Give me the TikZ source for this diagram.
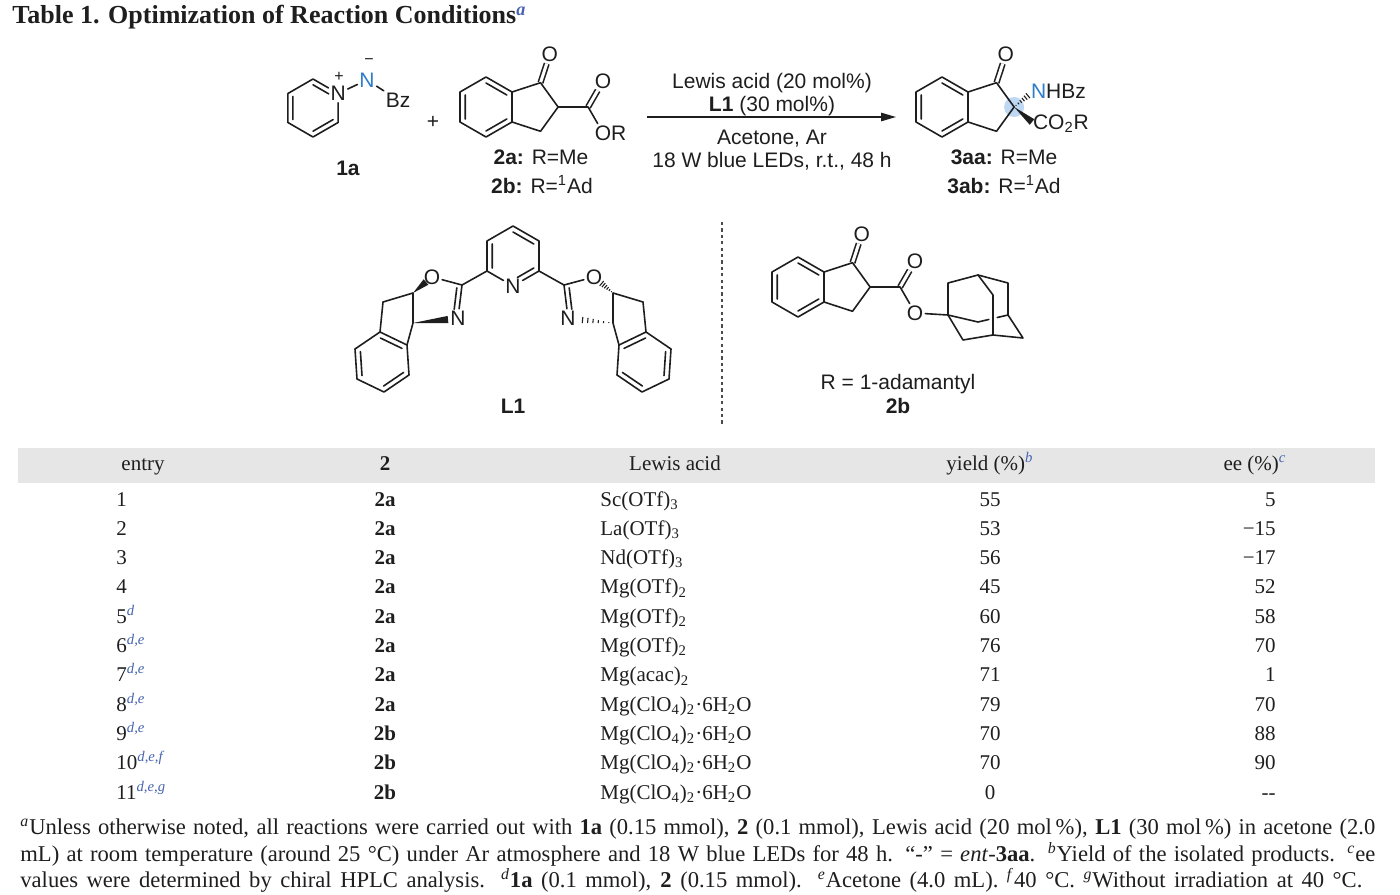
\documentclass[tikz,border=0pt]{standalone}
\usepackage{fontspec}
\setmainfont{Liberation Serif}
\setsansfont{Liberation Sans}
\usetikzlibrary{calc,arrows.meta}
\definecolor{ink}{RGB}{30,30,30}
\definecolor{chemblue}{RGB}{45,125,200}
\definecolor{refblue}{RGB}{70,100,175}
\definecolor{headgray}{RGB}{230,230,230}
\definecolor{stereohl}{RGB}{190,215,242}
\newcommand\wedgebond[2]{\fill[ink] (#1) -- ($(#2)!1.8pt!90:(#1)$) -- ($(#2)!1.8pt!-90:(#1)$) -- cycle;}
\newcommand\hashbond[2]{\foreach \hf in {0.12,0.27,...,0.97}
  \draw[hash] ($(#1)!\hf!(#2)!\hf*1.8pt!90:(#2)$) -- ($(#1)!\hf!(#2)!\hf*1.8pt!-90:(#2)$);}
\newcommand\mgp{Mg(ClO\textsubscript{4})\textsubscript{2}·6H\textsubscript{2}O}

\begin{document}
\begin{tikzpicture}[x=0.5pt, y=-0.5pt,
  bond/.style={draw=ink, line width=0.8pt, line cap=round, line join=round},
  dbl/.style={bond, line cap=butt, double=white, double distance=1.5pt},
  hash/.style={draw=ink, line width=0.55pt},
  atom/.style={inner sep=0.8pt, text=ink, font=\sffamily\fontsize{10.5}{12}\selectfont},
  chem/.style={inner sep=0pt, text=ink, font=\sffamily\fontsize{10.5}{12}\selectfont},
  charge/.style={inner sep=0pt, text=ink, font=\sffamily\fontsize{8}{9}\selectfont},
  tab/.style={inner sep=0pt, text=ink, font=\fontsize{10.5}{12}\selectfont},
  foot/.style={inner sep=0pt, text=ink, font=\fontsize{11.3}{13}\selectfont},
  rarrow/.style={draw=ink, line width=0.75pt, -{Triangle[length=7.5pt, width=4.2pt]}},
  sep/.style={draw=ink!80, line width=0.9pt, dash pattern=on 1.6pt off 1.6pt},
  indanone/.pic={
    \coordinate (-c) at (0,0);
    \coordinate (-t) at (0,-30);
    \coordinate (-ur) at (26,-15);
    \coordinate (-lr) at (26,15);
    \coordinate (-b) at (0,30);
    \coordinate (-ll) at (-26,15);
    \coordinate (-ul) at (-26,-15);
    \coordinate (-k) at (54.5,-24.3);
    \coordinate (-ch) at (72.1,0);
    \coordinate (-m) at (54.5,24.3);
    \node[atom] (-o) at (63.8,-52.8) {O};
    \draw[dbl] (-k) -- (-o);
    \draw[bond] (-t) -- (-ur) -- (-lr) -- (-b) -- (-ll) -- (-ul) -- cycle
      (-ur) -- (-k) -- (-ch) -- (-m) -- (-lr);
    \draw[bond] ($(-c)!.8!(-t)$) -- ($(-c)!.8!(-ur)$)
      ($(-c)!.8!(-ul)$) -- ($(-c)!.8!(-ll)$)
      ($(-c)!.8!(-b)$) -- ($(-c)!.8!(-lr)$);
  },
  indox/.pic={
    \coordinate (-p) at (-26,15);
    \coordinate (-c2) at (-51,29);
    \node[atom] (-o) at (-81,21) {O};
    \node[atom] (-n) at (-55,62) {N};
    \coordinate (-c5) at (-100,37);
    \coordinate (-c4) at (-100,67);
    \coordinate (-m) at (-130,46);
    \coordinate (-x) at (-77,43);
    \coordinate (-ow) at (-87,26);
    \coordinate (-nw) at (-65,63.5);
    \coordinate (-bz) at (-131,106);
    \coordinate (-b1) at (-133,76);
    \coordinate (-b2) at (-106,89);
    \coordinate (-b3) at (-104,119);
    \coordinate (-b4) at (-129,136);
    \coordinate (-b5) at (-156,123);
    \coordinate (-b6) at (-158,93);
    \draw[bond] (-p) -- (-c2) -- (-o);
    \draw[bond] (-c2) -- (-n);
    \draw[bond, shorten >=2.5pt] ($(-x)!.8!(-c2)$) -- ($(-x)!.8!(-n)$);
    \draw[bond] (-m) -- (-c5) -- (-c4) -- (-b2);
    \draw[bond] (-m) -- (-b1);
    \draw[bond] (-b1) -- (-b2) -- (-b3) -- (-b4) -- (-b5) -- (-b6) -- cycle;
    \draw[bond] ($(-bz)!.8!(-b1)$) -- ($(-bz)!.8!(-b2)$)
      ($(-bz)!.8!(-b3)$) -- ($(-bz)!.8!(-b4)$)
      ($(-bz)!.8!(-b5)$) -- ($(-bz)!.8!(-b6)$);
  }]

\useasboundingbox (0,0) rectangle (1400,894);

\node[anchor=base west, inner sep=0pt, text=ink, font=\bfseries\fontsize{13}{15}\selectfont] (title) at (12,24)
  {Table 1. Optimization of Reaction Conditions\textsuperscript{\textcolor{refblue}{\textit{a}}}};

% 1a
\coordinate (pc) at (313,108);
\coordinate (pt) at (313,79);
\node[atom] (np) at (338.1,93.5) {N};
\coordinate (plr) at (338.1,122.5);
\coordinate (pb) at (313,137);
\coordinate (pll) at (287.9,122.5);
\coordinate (pul) at (287.9,93.5);
\draw[bond] (np) -- (plr) -- (pb) -- (pll) -- (pul) -- (pt) -- (np);
\draw[bond, shorten >=2.5pt] ($(pc)!.8!(pt)$) -- ($(pc)!.8!(np)$);
\draw[bond] ($(pc)!.8!(pul)$) -- ($(pc)!.8!(pll)$) ($(pc)!.8!(pb)$) -- ($(pc)!.8!(plr)$);
\node[charge] (npq) at (339,77) {+};
\node[atom, text=chemblue] (nm) at (367,80) {N};
\node[charge] (nmq) at (369,62) {−};
\node[atom] (bz) at (398,100) {Bz};
\draw[bond] (np) -- (nm);
\draw[bond] (nm) -- (bz);
\node[chem, anchor=base] (l1a) at (348,175.5) {\textbf{1a}};
\node[atom] (plus) at (433,122) {+};

% 2
\pic (sm) at (486,107) {indanone};
\coordinate (se) at ($(sm-ch)+(30,0)$);
\node[atom] (so1) at ($(se)+(15,-26)$) {O};
\node[atom] (so2) at ($(se)+(15,26)$) {O};
\node[atom, anchor=west, inner xsep=0pt, xshift=-1.3pt] (sr) at (so2.east) {R};
\draw[dbl] (se) -- (so1);
\draw[bond] (sm-ch) -- (se) -- (so2);
\node[chem, anchor=base] (l2a) at (541,164.5) {\textbf{2a:} R=Me};
\node[chem, anchor=base] (l2b) at (542,193.5) {\textbf{2b:} R=\textsuperscript{1}Ad};

% arrow and conditions
\coordinate (arra) at (647,117);
\coordinate (arrb) at (896,117);
\draw[rarrow] (arra) -- (arrb);
\node[chem, anchor=base] (cd1) at (772,88.5) {Lewis acid (20 mol\%)};
\node[chem, anchor=base] (cd2) at (772,111.5) {\textbf{L1} (30 mol\%)};
\node[chem, anchor=base] (cd3) at (772,144.5) {Acetone, Ar};
\node[chem, anchor=base] (cd4) at (772,167.5) {18 W blue LEDs, r.t., 48 h};

% 3aa
\coordinate (qhl) at (1014.1,107);
\fill[stereohl] (qhl) circle[radius=5pt];
\pic (pr) at (942,107) {indanone};
\node[atom, anchor=west] (nhbz) at (1029,91) {\textcolor{chemblue}{N}HBz};
\node[atom, anchor=west] (co2r) at (1031,124) {CO\textsubscript{2}R};
\coordinate (wn) at ($(nhbz.west)+(1,3)$);
\coordinate (wc) at ($(co2r.west)+(1,-2)$);
\hashbond{pr-ch}{wn}
\wedgebond{pr-ch}{wc}
\node[chem, anchor=base] (l3aa) at (1004,164.5) {\textbf{3aa:} R=Me};
\node[chem, anchor=base] (l3ab) at (1004,193.5) {\textbf{3ab:} R=\textsuperscript{1}Ad};

% L1
\coordinate (lp) at (513,256);
\coordinate (lpt) at (513,226);
\coordinate (lpur) at (539,241);
\coordinate (lplr) at (539,271);
\node[atom] (lpn) at (513,286) {N};
\coordinate (lpll) at (487,271);
\coordinate (lpul) at (487,241);
\draw[bond] (lpn) -- (lpll) -- (lpul) -- (lpt) -- (lpur) -- (lplr) -- (lpn);
\draw[bond] ($(lp)!.8!(lpul)$) -- ($(lp)!.8!(lpll)$) ($(lp)!.8!(lpt)$) -- ($(lp)!.8!(lpur)$);
\draw[bond, shorten >=2.5pt] ($(lp)!.8!(lplr)$) -- ($(lp)!.8!(lpn)$);
\pic (lx) at (lp) {indox};
\pic[xscale=-1] (rx) at (lp) {indox};
\wedgebond{lx-c5}{lx-ow}
\wedgebond{lx-c4}{lx-nw}
\hashbond{rx-c5}{rx-ow}
\hashbond{rx-c4}{rx-nw}
\node[chem, anchor=base] (ll1) at (513,413.5) {\textbf{L1}};

\coordinate (sepa) at (722,222);
\coordinate (sepb) at (722,425);
\draw[sep] (sepa) -- (sepb);

% 2b
\pic (ib) at (798,287) {indanone};
\coordinate (ibe) at ($(ib-ch)+(30,0)$);
\node[atom] (ibo1) at ($(ibe)+(15,-26)$) {O};
\node[atom] (ibo2) at ($(ibe)+(15,26)$) {O};
\coordinate (am1) at (948,315);
\coordinate (am2) at (948,283);
\coordinate (am3) at (978,275);
\coordinate (am4) at (1008,283);
\coordinate (am5) at (1008,315);
\coordinate (am6) at (1023,338);
\coordinate (am7) at (993,335);
\coordinate (am8) at (963,340);
\coordinate (am9) at (978,322);
\coordinate (am10) at (993,295);
\draw[dbl] (ibe) -- (ibo1);
\draw[bond] (ib-ch) -- (ibe) -- (ibo2) -- (am1);
\draw[bond] (am2) -- (am1) -- (am8) -- (am7) -- (am6) -- (am5) -- (am4) -- (am3) -- (am2);
\draw[bond] (am3) -- (am10) -- (am7);
\draw[bond] (am1) -- (am9) -- ($(am9)!.36!(am5)$) ($(am9)!.64!(am5)$) -- (am5);
\node[chem, anchor=base] (l2bs) at (898,389.5) {R = 1-adamantyl};
\node[chem, anchor=base] (l2bb) at (898,413.5) {\textbf{2b}};

% table
\fill[headgray] (18,448) rectangle (1375,483);
\node[tab, anchor=base] (h1) at (143,470) {entry};
\node[tab, anchor=base] (h2) at (385,470) {\textbf{2}};
\node[tab, anchor=base] (h3) at (675,470) {Lewis acid};
\node[tab, anchor=base] (h4) at (990,470) {yield (\%)\textsuperscript{\textcolor{refblue}{\textit{b}}}};
\node[tab, anchor=base] (h5) at (1255,470) {ee (\%)\textsuperscript{\textcolor{refblue}{\textit{c}}}};

\foreach \ent/\fns/\cpd/\lew/\yld/\eev [count=\i] in {
  1//2a/Sc(OTf)\textsubscript{3}/55/5,
  2//2a/La(OTf)\textsubscript{3}/53/−15,
  3//2a/Nd(OTf)\textsubscript{3}/56/−17,
  4//2a/Mg(OTf)\textsubscript{2}/45/52,
  5/d/2a/Mg(OTf)\textsubscript{2}/60/58,
  6/{d,e}/2a/Mg(OTf)\textsubscript{2}/76/70,
  7/{d,e}/2a/Mg(acac)\textsubscript{2}/71/1,
  8/{d,e}/2a/\mgp/79/70,
  9/{d,e}/2b/\mgp/70/88,
  10/{d,e,f}/2b/\mgp/70/90,
  11/{d,e,g}/2b/\mgp/0/-{}-}{
  \node[tab, anchor=base west] (en\i) at (116,{506+29.3*(\i-1)}) {\ent\textsuperscript{\textcolor{refblue}{\textit{\fns}}}};
  \node[tab, anchor=base] (cp\i) at (385,{506+29.3*(\i-1)}) {\textbf{\cpd}};
  \node[tab, anchor=base west] (la\i) at (600,{506+29.3*(\i-1)}) {\lew};
  \node[tab, anchor=base] (yd\i) at (990,{506+29.3*(\i-1)}) {\yld};
  \node[tab, anchor=base east] (ee\i) at (1276,{506+29.3*(\i-1)}) {\eev};
}

% footnotes
\node[foot, anchor=base west] (fn1) at (20,834) {\makebox[677.5pt][s]{\textsuperscript{\textit{a}}Unless otherwise noted, all reactions were carried out with \textbf{1a} (0.15 mmol), \textbf{2} (0.1 mmol), Lewis acid (20 mol\,\%), \textbf{L1} (30 mol\,\%) in acetone (2.0}};
\node[foot, anchor=base west] (fn2) at (20,861) {\makebox[677.5pt][s]{mL) at room temperature (around 25 °C) under Ar atmosphere and 18 W blue LEDs for 48 h. “-” = \textit{ent}-\textbf{3aa}. \textsuperscript{\textit{b}}Yield of the isolated products. \textsuperscript{\textit{c}}ee}};
\node[foot, anchor=base west] (fn3) at (20,887) {\makebox[671pt][s]{values were determined by chiral HPLC analysis. \textsuperscript{\textit{d}}\textbf{1a} (0.1 mmol), \textbf{2} (0.15 mmol). \textsuperscript{\textit{e}}Acetone (4.0 mL). \textsuperscript{\textit{f}}40 °C. \textsuperscript{\textit{g}}Without irradiation at 40 °C.}};

\end{tikzpicture}
\end{document}
